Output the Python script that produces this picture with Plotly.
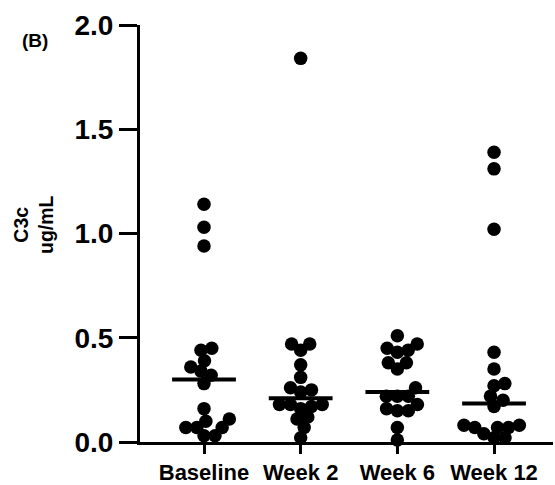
import math
import plotly.graph_objects as go

categories = ["Baseline", "Week 2", "Week 6", "Week 12"]

baseline = [1.14, 1.03, 0.94, 0.44, 0.45, 0.39, 0.36, 0.34, 0.32, 0.28,
            0.16, 0.11, 0.07, 0.07, 0.07, 0.10, 0.03, 0.03]
week2 = [1.84, 0.47, 0.44, 0.47, 0.37, 0.31, 0.24, 0.25, 0.26, 0.16,
         0.17, 0.18, 0.18, 0.18, 0.12, 0.11, 0.07, 0.02]
week6 = [0.51, 0.43, 0.45, 0.44, 0.47, 0.38, 0.35, 0.38, 0.26, 0.22,
         0.22, 0.22, 0.16, 0.15, 0.18, 0.15, 0.07, 0.01]
week12 = [1.39, 1.31, 1.02, 0.43, 0.35, 0.28, 0.27, 0.22, 0.20, 0.17,
          0.07, 0.08, 0.08, 0.07, 0.07, 0.04, 0.02, 0.02]
medians = [0.30, 0.21, 0.24, 0.185]

y_ticks = [0.0, 0.5, 1.0, 1.5, 2.0]

groups = [baseline, week2, week6, week12]

# geometry (pixels)
W, H = 555, 485
ML, MR, MT, MB = 140, 2, 25, 43
XR = [-0.662, 3.61]
YR = [0.0, 2.0]
px_per_x = (W - ML - MR) / (XR[1] - XR[0])
px_per_y = (H - MT - MB) / (YR[1] - YR[0])
D = 11.0  # spacing between dot centres in px (dots overlap slightly)


def swarm(values):
    """Greedy beeswarm: returns x offsets (data units) for values."""
    order = sorted(range(len(values)), key=lambda i: values[i])
    placed = []  # (xpx, ypx)
    offs = [0.0] * len(values)
    for i in order:
        y = values[i] * px_per_y
        cands = [0.0]
        for (px, py) in placed:
            dy = abs(py - y)
            if dy < D:
                dx = math.sqrt(D * D - dy * dy)
                cands += [px + dx, px - dx]
        cands.sort(key=lambda c: (abs(c), -c))
        for c in cands:
            ok = all((c - px) ** 2 + (y - py) ** 2 >= D * D - 1e-6 for px, py in placed)
            if ok:
                placed.append((c, y))
                offs[i] = c / px_per_x
                break
    return offs


fig = go.Figure()
for gi, vals in enumerate(groups):
    offs = swarm(vals)
    fig.add_trace(go.Scatter(
        x=[gi + o for o in offs], y=vals, mode="markers",
        marker=dict(size=13.5, color="black", line=dict(width=0)),
        cliponaxis=False, showlegend=False, hoverinfo="skip"))
for gi, m in enumerate(medians):
    fig.add_trace(go.Scatter(
        x=[gi - 0.33, gi + 0.33], y=[m, m], mode="lines",
        line=dict(color="black", width=4), cliponaxis=False,
        showlegend=False, hoverinfo="skip"))

font_family = "Liberation Sans, Arial, sans-serif"

fig.update_layout(
    width=W, height=H,
    margin=dict(l=ML, r=MR, t=MT, b=MB, pad=0, autoexpand=False),
    plot_bgcolor="white", paper_bgcolor="white",
    font=dict(family=font_family, color="black"),
    xaxis=dict(
        range=XR, tickmode="array", tickvals=list(range(len(categories))),
        ticktext=categories, showgrid=False, zeroline=False, automargin=False,
        showline=True, linewidth=3, linecolor="black",
        ticks="outside", ticklen=9, tickwidth=3, tickcolor="black",
        tickfont=dict(size=22, family=font_family, weight="bold", color="black"),
    ),
    yaxis=dict(
        range=YR, tickmode="array", tickvals=y_ticks, automargin=False,
        ticktext=[f"{v:.1f}" for v in y_ticks], showgrid=False, zeroline=False,
        showline=True, linewidth=3, linecolor="black",
        ticks="outside", ticklen=18, tickwidth=3, tickcolor="black",
        tickfont=dict(size=28, family=font_family, weight="bold", color="black"),
    ),
    annotations=[
        dict(text="C3c<br>ug/mL", xref="paper", yref="paper",
             x=(33 - ML) / (W - ML - MR), y=(H - MB - 225) / (H - MT - MB),
             xanchor="center", yanchor="middle", textangle=-90, showarrow=False,
             font=dict(size=19.5, family=font_family, weight="bold", color="black")),
        dict(text="(B)", xref="paper", yref="paper",
             x=(35 - ML) / (W - ML - MR), y=(H - MB - 40) / (H - MT - MB),
             xanchor="center", yanchor="middle", showarrow=False,
             font=dict(size=19, family=font_family, weight="bold", color="black")),
    ],
)

fig.write_html("out.html", config={"displayModeBar": False},
               post_script="document.body.style.margin='0';document.body.style.overflow='hidden';")
